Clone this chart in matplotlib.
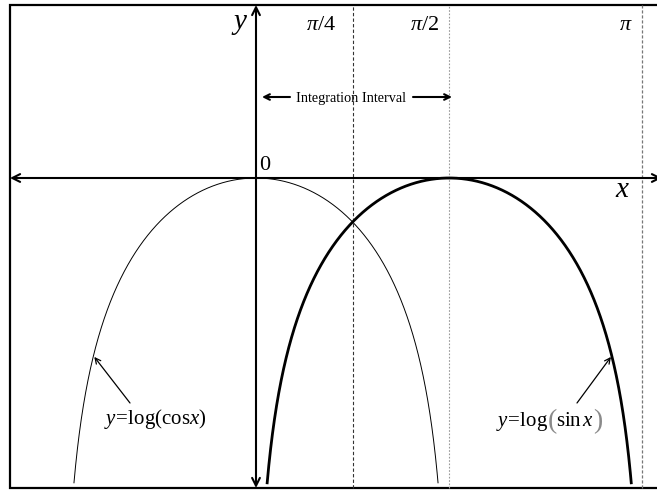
import numpy as np
import matplotlib
matplotlib.use("Agg")
import matplotlib.pyplot as plt

plt.rcParams['font.family'] = ['Liberation Serif', 'DejaVu Serif']
plt.rcParams['mathtext.fontset'] = 'custom'
plt.rcParams['mathtext.rm'] = 'Liberation Serif'
plt.rcParams['mathtext.it'] = 'Liberation Serif:italic'
plt.rcParams['mathtext.bf'] = 'Liberation Serif:bold'

W, H = 657, 491

# reference lines and their labels
vline_x = [np.pi / 4, np.pi / 2, np.pi]
vline_labels = [r'$\pi/4$', r'$\pi/2$', r'$\pi$']
vline_styles = [dict(color='#333333', ls=(0, (3, 2)), lw=0.8),
                dict(color='#999999', ls=(0, (1.5, 1.5)), lw=0.8),
                dict(color='#777777', ls=(0, (2.5, 1.5)), lw=0.9)]

# lowest value drawn for both curves
y_floor = -2.40
x_edge = np.arcsin(np.exp(y_floor))

x_sin = np.linspace(x_edge, np.pi - x_edge, 2000)
y_sin = np.log(np.sin(x_sin))
x_cos = np.linspace(-np.pi / 2 + x_edge, np.pi / 2 - x_edge, 2000)
y_cos = np.log(np.cos(x_cos))

# pixels per unit, origin in pixels
sx, sy = 123.0, 127.0
ox, oy = 256.0, 178.0


def P(px, py):
    # pixel position -> axes fraction
    return px / W, 1 - py / H


fig = plt.figure(figsize=(W / 100, H / 100), dpi=100)
ax = fig.add_axes([0, 0, 1, 1])
ax.set_xlim(-ox / sx, (W - ox) / sx)
ax.set_ylim(-(H - oy) / sy, oy / sy)
ax.axis('off')

# frame (open on the right)
fx0, fy1 = P(10, 5)
_, fy0 = P(10, 488)
ax.plot([1.01, fx0, fx0, 1.01], [fy1, fy1, fy0, fy0], color='black', lw=1.6,
        transform=ax.transAxes, clip_on=False, solid_joinstyle='miter')

# vertical guide lines
for xv, st in zip(vline_x, vline_styles):
    ax.plot([xv, xv], [fy0, fy1], transform=ax.get_xaxis_transform(), **st)

# axes with arrows at both ends
ax.annotate('', xy=P(10, oy), xytext=P(662, oy), xycoords='axes fraction',
            arrowprops=dict(arrowstyle='<->', lw=1.5, color='black',
                            shrinkA=0, shrinkB=0, mutation_scale=14))
ax.annotate('', xy=P(ox, 5), xytext=P(ox, 488), xycoords='axes fraction',
            arrowprops=dict(arrowstyle='<->', lw=1.5, color='black',
                            shrinkA=0, shrinkB=0, mutation_scale=14))

# curves
ax.plot(x_cos, y_cos, color='black', lw=0.7)
ax.plot(x_sin, y_sin, color='black', lw=2.0)

# axis labels
ax.text(*P(240, 24), r'$y$', fontsize=21, ha='center', va='center',
        transform=ax.transAxes)
ax.text(*P(623, 190), r'$x$', fontsize=21, ha='center', va='center',
        transform=ax.transAxes)
ax.text(*P(265, 165), '0', fontsize=16, ha='center', va='center',
        transform=ax.transAxes)

label_px = [321, 425, 626]
for lab, lx in zip(vline_labels, label_px):
    ax.text(*P(lx, 30), lab, fontsize=16, ha='center', va='baseline',
            transform=ax.transAxes)

# integration interval marker
ax.text(*P(351, 98), 'Integration Interval', fontsize=10.3, ha='center',
        va='center', transform=ax.transAxes)
ax.annotate('', xy=P(262, 97), xytext=P(290, 97), xycoords='axes fraction',
            arrowprops=dict(arrowstyle='->', lw=1.5, color='black',
                            shrinkA=0, shrinkB=0))
ax.annotate('', xy=P(452, 97), xytext=P(413, 97), xycoords='axes fraction',
            arrowprops=dict(arrowstyle='->', lw=1.5, color='black',
                            shrinkA=0, shrinkB=0))

# curve labels with pointers
y_tip = -1.40
x_tip_cos = -np.arccos(np.exp(y_tip))
x_tip_sin = np.pi - np.arcsin(np.exp(y_tip))

ax.annotate('', xy=(x_tip_cos, y_tip), xytext=P(130, 403),
            textcoords='axes fraction',
            arrowprops=dict(arrowstyle='->', lw=0.9, color='black',
                            shrinkA=0, shrinkB=1))
ax.text(*P(155, 419), r'$y\!=\!\mathrm{log}(\mathrm{cos}x)$', fontsize=15,
        ha='center', va='center', transform=ax.transAxes)

ax.annotate('', xy=(x_tip_sin, y_tip), xytext=P(577, 403),
            textcoords='axes fraction',
            arrowprops=dict(arrowstyle='->', lw=0.9, color='black',
                            shrinkA=0, shrinkB=1))
# log(sin x) label, set with tall thin brackets
ax.text(*P(548, 426), r'$y\!=\!\mathrm{log}$', fontsize=15, ha='right',
        va='baseline', transform=ax.transAxes)
ax.text(*P(552, 422), '(', fontsize=20, ha='center', va='center',
        color='#8a8a8a', transform=ax.transAxes)
ax.text(*P(556, 426), r'$\mathrm{sin}\,x$', fontsize=15, ha='left',
        va='baseline', transform=ax.transAxes)
ax.text(*P(598, 422), ')', fontsize=20, ha='center', va='center',
        color='#8a8a8a', transform=ax.transAxes)

fig.savefig('out.png', dpi=100)
